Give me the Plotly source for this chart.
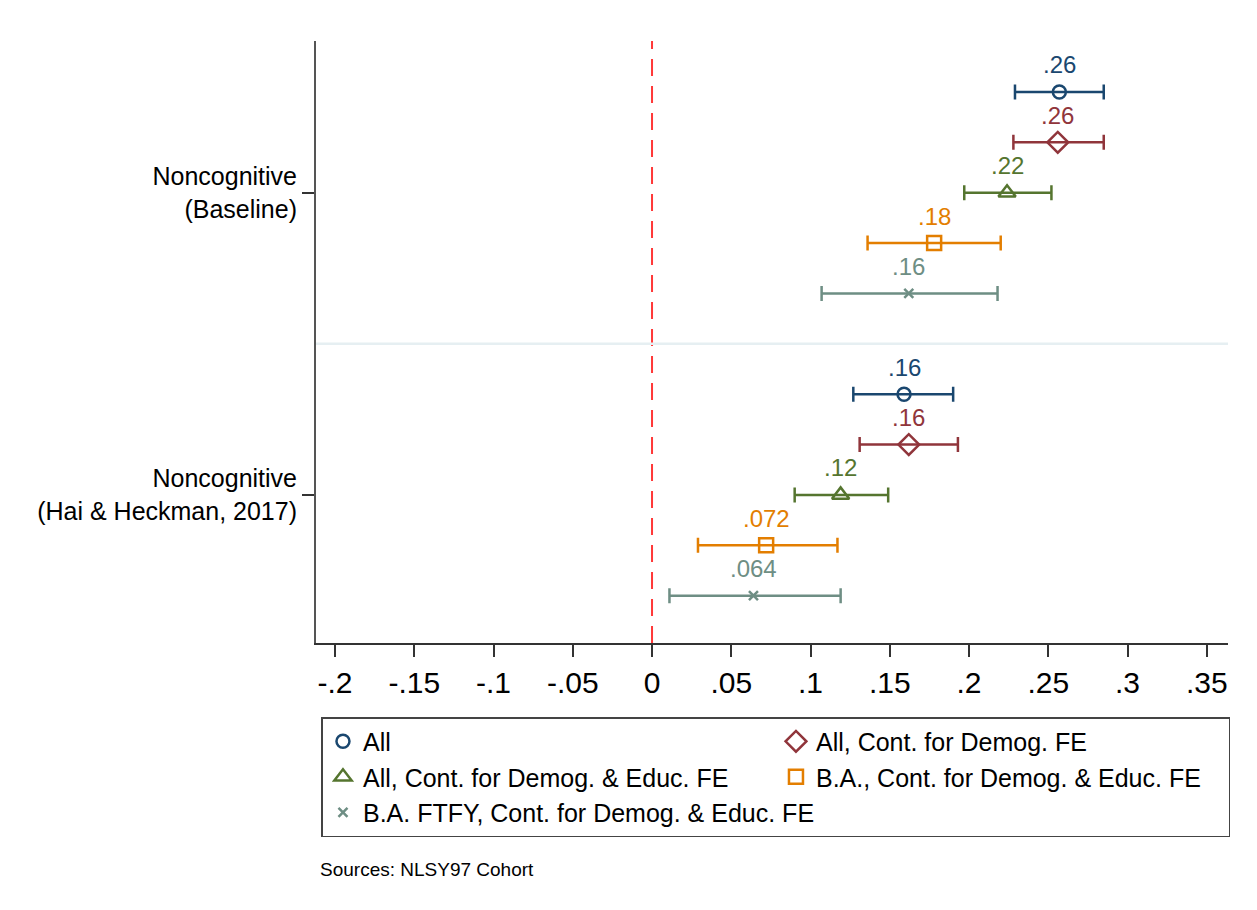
import plotly.graph_objects as go

series_names = [
    "All",
    "All, Cont. for Demog. FE",
    "All, Cont. for Demog. & Educ. FE",
    "B.A., Cont. for Demog. & Educ. FE",
    "B.A. FTFY, Cont. for Demog. & Educ. FE",
]
groups = ["Noncognitive<br>(Baseline)", "Noncognitive<br>(Hai & Heckman, 2017)"]

# point estimates and 95% CI bounds, one pair (baseline, Hai & Heckman) per series
est_all = [0.257, 0.159]
lo_all = [0.229, 0.127]
hi_all = [0.285, 0.190]

est_demog = [0.256, 0.162]
lo_demog = [0.228, 0.131]
hi_demog = [0.285, 0.193]

est_educ = [0.224, 0.119]
lo_educ = [0.197, 0.090]
hi_educ = [0.252, 0.149]

est_ba = [0.178, 0.072]
lo_ba = [0.136, 0.029]
hi_ba = [0.220, 0.117]

est_ftfy = [0.162, 0.064]
lo_ftfy = [0.107, 0.011]
hi_ftfy = [0.218, 0.119]

labels_all = [".26", ".16"]
labels_demog = [".26", ".16"]
labels_educ = [".22", ".12"]
labels_ba = [".18", ".072"]
labels_ftfy = [".16", ".064"]

x_ticks = [-0.2, -0.15, -0.1, -0.05, 0, 0.05, 0.1, 0.15, 0.2, 0.25, 0.3, 0.35]
x_ticktext = ["-.2", "-.15", "-.1", "-.05", "0", ".05", ".1", ".15", ".2", ".25", ".3", ".35"]

estimates = [est_all, est_demog, est_educ, est_ba, est_ftfy]
lows = [lo_all, lo_demog, lo_educ, lo_ba, lo_ftfy]
highs = [hi_all, hi_demog, hi_educ, hi_ba, hi_ftfy]
labels = [labels_all, labels_demog, labels_educ, labels_ba, labels_ftfy]

colors = ["#1a476f", "#90353b", "#55752f", "#e37e00", "#6e8e84"]
symbols = ["circle-open", "diamond-open", "triangle-up-open", "square-open", "x-thin-open"]
sizes = [13, 16, 15, 14, 9]

FONT = "Arial, Liberation Sans, sans-serif"

fig = go.Figure()
annotations = []

for i, name in enumerate(series_names):
    # row i+1 within each block of 6 (row 6 is the gap between groups)
    ys = [g * 6 + i + 1 for g in range(len(groups))]
    est = estimates[i]
    fig.add_trace(go.Scatter(
        x=est, y=ys, mode="markers", name=name,
        marker=dict(symbol=symbols[i], size=sizes[i], color=colors[i],
                    line=dict(width=2.5, color=colors[i])),
        error_x=dict(type="data",
                     array=[h - e for h, e in zip(highs[i], est)],
                     arrayminus=[e - l for e, l in zip(est, lows[i])],
                     color=colors[i], thickness=2.5, width=7.5),
    ))
    for xv, yv, txt in zip(est, ys, labels[i]):
        annotations.append(dict(
            x=xv, y=yv, xref="x", yref="y", text=txt, showarrow=False,
            yanchor="middle", yshift=27,
            font=dict(family=FONT, size=24, color=colors[i]),
        ))

annotations.append(dict(
    x=0.002, y=-0.377, xref="paper", yref="paper", xanchor="left", yanchor="middle",
    text="Sources: NLSY97 Cohort", showarrow=False,
    font=dict(family=FONT, size=19, color="#000"),
))

fig.add_shape(type="line", xref="x", yref="paper", x0=0, x1=0, y0=0, y1=1,
              line=dict(color="#ff3838", width=2, dash="17px,10px"), layer="below")
fig.add_shape(type="line", xref="paper", yref="y", x0=0, x1=1, y0=6, y1=6,
              line=dict(color="#e6eff2", width=2.5), layer="below")

fig.update_layout(
    width=1249, height=902,
    margin=dict(l=308, r=29, t=33, b=267),
    paper_bgcolor="white", plot_bgcolor="white",
    font=dict(family=FONT, color="#000"),
    annotations=annotations,
    showlegend=True,
    legend=dict(
        orientation="h", x=0.006, xanchor="left", y=-0.123, yanchor="top",
        entrywidth=408, bordercolor="#444", borderwidth=1.5,
        font=dict(family=FONT, size=25, color="#000"),
        bgcolor="white", traceorder="normal",
    ),
)

fig.update_xaxes(
    range=[-0.212, 0.3634], tickvals=x_ticks, ticktext=x_ticktext,
    showline=True, linecolor="#333", linewidth=2,
    ticks="outside", ticklen=12, tickwidth=2, tickcolor="#333",
    showgrid=False, zeroline=False,
    tickfont=dict(family=FONT, size=30, color="#000"),
)
fig.update_yaxes(
    range=[11.94, -0.012], tickvals=[3, 9], ticktext=groups,
    showline=True, linecolor="#555", linewidth=2,
    ticks="outside", ticklen=12, tickwidth=2, tickcolor="#333",
    showgrid=False, zeroline=False,
    tickfont=dict(family=FONT, size=25, color="#000"),
)

fig.write_html("out.html")
